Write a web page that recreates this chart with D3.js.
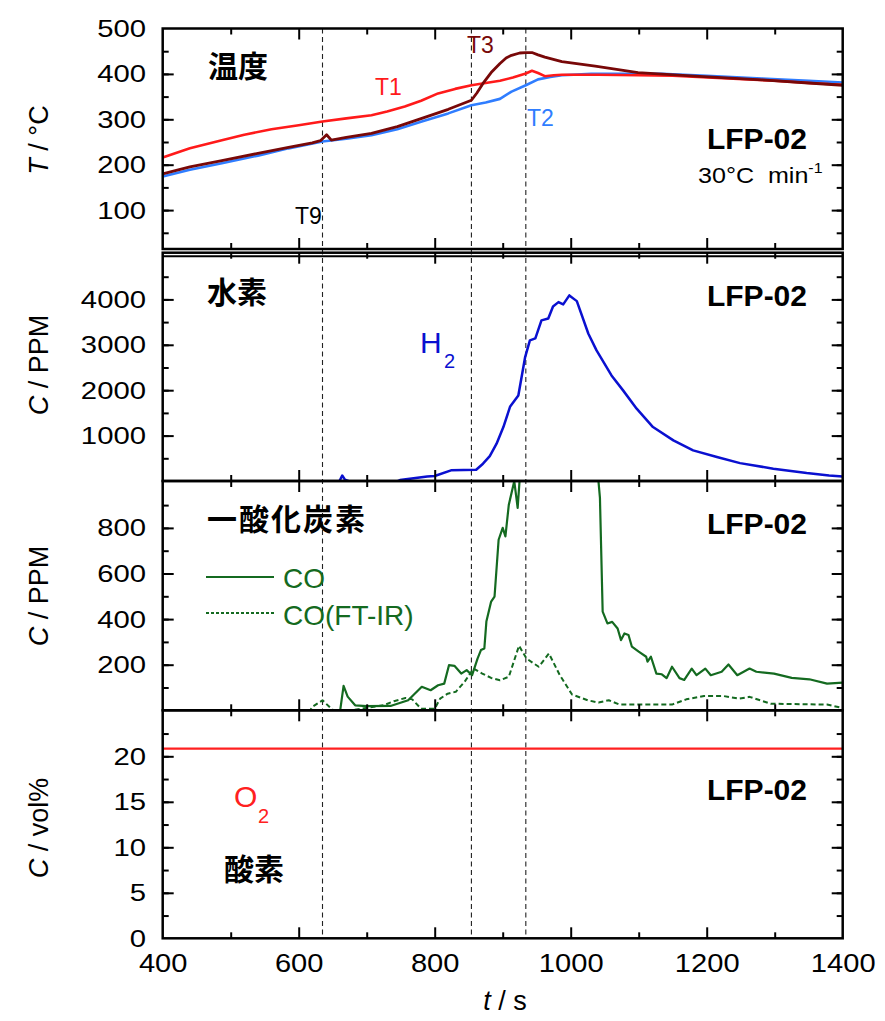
<!DOCTYPE html>
<html>
<head>
<meta charset="utf-8">
<script src="https://cdn.jsdelivr.net/npm/d3@7"></script>
<style>
  body { margin: 0; background: #fff; }
  text { font-family: "Liberation Sans", Arial, sans-serif; }
  .jp { font-family: "Noto Sans CJK JP", sans-serif; font-weight: 700; }
</style>
</head>
<body>
<svg id="chart" width="885" height="1021"></svg>
<script>
// ---- data ----
const markerTimes = [635, 854, 934];

const t1Time = [400, 440, 487, 520, 560, 600, 635, 670, 707, 730, 756, 780, 805, 830, 854, 875, 896, 915, 934, 943, 952, 962, 975, 987, 1040, 1099, 1150, 1231, 1300, 1350, 1400];
const t1Temp = [216, 236, 254, 266, 278, 287, 295, 302, 309, 317, 328, 341, 357, 367, 375, 380, 385, 392, 401, 407, 402, 395, 397, 398, 398, 397, 396, 390, 385, 380, 376];

const t2Time = [400, 440, 487, 540, 585, 635, 670, 707, 745, 781, 820, 854, 875, 896, 913, 934, 952, 970, 987, 1030, 1134, 1200, 1281, 1350, 1400];
const t2Temp = [174, 189, 203, 220, 236, 251, 257, 265, 278, 295, 313, 331, 337, 345, 361, 375, 388, 393, 397, 400, 400, 396, 390, 385, 381];

const t3Time = [400, 440, 487, 540, 585, 620, 632, 641, 648, 670, 707, 745, 781, 820, 854, 862, 871, 883, 896, 905, 913, 925, 934, 943, 952, 962, 987, 1036, 1099, 1183, 1281, 1350, 1400];
const t3Temp = [180, 195, 209, 225, 238, 248, 253, 266, 254, 260, 269, 284, 302, 322, 342, 358, 379, 403, 423, 435, 441, 446, 447, 447, 442, 437, 427, 417, 403, 395, 387, 380, 375];

const h2Time = [655, 660, 664, 668, 680, 740, 749, 789, 800, 824, 861, 871, 881, 891, 901, 911, 923, 933, 940, 948, 957, 967, 974, 982, 989, 998, 1009, 1026, 1038, 1060, 1077, 1097, 1121, 1151, 1180, 1215, 1249, 1298, 1347, 1380, 1400];
const h2Ppm  = [-40, 0, 120, 30, -40, -40, 20, 100, 110, 235, 248, 381, 549, 821, 1188, 1643, 1885, 2730, 3097, 3140, 3537, 3580, 3845, 3940, 3890, 4088, 3962, 3244, 2877, 2326, 1996, 1593, 1188, 894, 674, 527, 394, 271, 174, 120, 101];

const coTime = [661, 666, 672, 683, 700, 735, 761, 781, 794, 805, 814, 821, 829, 839, 847, 855, 863, 868, 873, 876, 883, 888, 894, 900, 904, 909, 917, 922, 927, 1038, 1043, 1047, 1054, 1061, 1069, 1074, 1079, 1085, 1090, 1100, 1111, 1113, 1118, 1126, 1134, 1141, 1149, 1160, 1167, 1178, 1185, 1198, 1206, 1222, 1232, 1245, 1263, 1273, 1299, 1325, 1351, 1377, 1400];
const coPpm  = [0, 107, 60, 22, 18, 19, 44, 103, 88, 110, 117, 198, 195, 161, 176, 154, 227, 264, 271, 389, 477, 499, 748, 800, 763, 902, 1005, 888, 1100, 1100, 932, 433, 381, 388, 359, 308, 337, 330, 279, 257, 235, 213, 235, 161, 158, 141, 191, 141, 133, 183, 154, 183, 154, 169, 201, 154, 183, 169, 161, 142, 136, 117, 121];

const coIrTime = [615, 620, 635, 648, 655, 725, 740, 757, 767, 780, 800, 808, 819, 831, 844, 857, 870, 883, 896, 909, 924, 935, 953, 968, 984, 1002, 1025, 1041, 1056, 1072, 1149, 1170, 1196, 1224, 1247, 1263, 1294, 1377, 1400];
const coIrPpm  = [-10, 15, 44, 7, -10, 22, 40, 54, 48, 7, 7, 51, 73, 81, 125, 183, 161, 142, 132, 147, 283, 227, 191, 249, 154, 69, 44, 34, 44, 25, 25, 48, 63, 63, 51, 59, 29, 25, 10];

const o2Time = [400, 1400];
const o2Vol  = [20.85, 20.85];

const xTicks = [400, 600, 800, 1000, 1200, 1400];
const xMinor = [500, 700, 900, 1100, 1300];
const tLabels = [100, 200, 300, 400, 500];
const h2Labels = [1000, 2000, 3000, 4000];
const coLabels = [200, 400, 600, 800];
const o2Labels = [0, 5, 10, 15, 20];

// ---- layout ----
const svg = d3.select('#chart');
const X0 = 162.7, X1 = 842.7;
const x = d3.scaleLinear().domain([400, 1400]).range([X0, X1]);

const panels = [
  { id: 'temp', top: 28.5, bottom: 249, y: d3.scaleLinear().domain([0, 500]).range([255.5, 28.5]),
    labels: tLabels, minor: d3.range(50, 500, 50) },
  { id: 'h2', top: 252.7, bottom: 481, y: d3.scaleLinear().domain([0, 5000]).range([481, 254]),
    labels: h2Labels, minor: d3.range(500, 5000, 500) },
  { id: 'co', top: 481, bottom: 710.3, y: d3.scaleLinear().domain([0, 1000]).range([710.3, 482.3]),
    labels: coLabels, minor: d3.range(100, 1000, 100) },
  { id: 'o2', top: 710.3, bottom: 938.3, y: d3.scaleLinear().domain([0, 25]).range([938.3, 710.8]),
    labels: o2Labels, minor: d3.range(2.5, 25, 2.5) }
];
const P = Object.fromEntries(panels.map(p => [p.id, p]));

const defs = svg.append('defs');
panels.forEach(p => {
  defs.append('clipPath').attr('id', 'clip-' + p.id)
    .append('rect').attr('x', X0).attr('y', p.top).attr('width', X1 - X0).attr('height', p.bottom - p.top);
});

const clean = g => { g.select('.domain').remove(); g.attr('font-family', null).attr('font-size', null); };
const MAJ = 11, MIN = 6;

// marker lines
svg.append('g').selectAll('line').data(markerTimes).join('line')
  .attr('x1', d => x(d)).attr('x2', d => x(d))
  .attr('y1', P.temp.top).attr('y2', P.o2.bottom)
  .attr('stroke', '#222').attr('stroke-width', 1.1).attr('stroke-dasharray', '5,3.5');

// series
function drawLine(panel, times, vals, color, width, dash) {
  const y = P[panel].y;
  const line = d3.line().x(d => x(d[0])).y(d => y(d[1]));
  svg.append('path')
    .datum(d3.zip(times, vals))
    .attr('clip-path', `url(#clip-${panel})`)
    .attr('fill', 'none').attr('stroke', color).attr('stroke-width', width)
    .attr('stroke-linejoin', 'round')
    .attr('stroke-dasharray', dash || null)
    .attr('d', line);
}
const C_T1 = '#ff1a1a', C_T2 = '#2f7dff', C_T3 = '#780808', C_H2 = '#0a10d0', C_CO = '#146a20', C_O2 = '#ff2020';

drawLine('temp', t2Time, t2Temp, C_T2, 2.6);
drawLine('temp', t1Time, t1Temp, C_T1, 2.6);
drawLine('temp', t3Time, t3Temp, C_T3, 2.8);
drawLine('h2', h2Time, h2Ppm, C_H2, 2.5);
drawLine('co', coIrTime, coIrPpm, C_CO, 2, '5,3');
drawLine('co', coTime, coPpm, C_CO, 2.2);
drawLine('o2', o2Time, o2Vol, C_O2, 2.2);

// axes: inward ticks on all four sides of every panel
panels.forEach(p => {
  const inRange = v => { const py = p.y(v); return py > p.top + 1 && py < p.bottom - 1; };
  const minor = p.minor.filter(inRange);
  const major = minor.filter(v => p.labels.includes(v) || (p.id === 'o2' && v % 5 === 0));
  const xMaj = xTicks.filter(v => v > 400 && v < 1400);

  [[d3.axisLeft, X0], [d3.axisRight, X1]].forEach(([ax, px]) => {
    svg.append('g').attr('transform', `translate(${px},0)`)
      .call(ax(p.y).tickValues(minor).tickSize(-MIN).tickFormat('')).call(clean);
    svg.append('g').attr('transform', `translate(${px},0)`)
      .call(ax(p.y).tickValues(major).tickSize(-MAJ).tickFormat('')).call(clean);
  });
  [[d3.axisTop, p.top], [d3.axisBottom, p.bottom]].forEach(([ax, py]) => {
    svg.append('g').attr('transform', `translate(0,${py})`)
      .call(ax(x).tickValues(xMinor).tickSize(-MIN).tickFormat('')).call(clean);
    svg.append('g').attr('transform', `translate(0,${py})`)
      .call(ax(x).tickValues(xMaj).tickSize(-MAJ).tickFormat('')).call(clean);
  });

  // left tick labels
  const lab = svg.append('g');
  p.labels.forEach(v => {
    lab.append('text')
      .attr('transform', `translate(146,${p.y(v) + 8.5}) scale(1.22,1)`)
      .attr('text-anchor', 'end').attr('font-size', 24).attr('fill', '#000')
      .text(v);
  });
});

svg.selectAll('.tick line').attr('stroke', '#000').attr('stroke-width', 2);

// bottom labels
svg.append('g').attr('transform', `translate(0,${P.o2.bottom})`)
  .call(d3.axisBottom(x).tickValues(xTicks).tickSize(0).tickPadding(15).tickFormat(d3.format('d')))
  .call(clean)
  .selectAll('text').attr('font-size', 26).attr('fill', '#000')
  .attr('transform', 'scale(1.12,1)');

// panel frames
const frame = svg.append('g').attr('fill', 'none').attr('stroke', '#000').attr('stroke-width', 2.5);
panels.forEach(p => {
  frame.append('rect').attr('x', X0).attr('y', p.top).attr('width', X1 - X0).attr('height', p.bottom - p.top);
});
frame.append('line').attr('x1', X0).attr('x2', X1).attr('y1', 256.3).attr('y2', 256.3).attr('stroke-width', 2);

// axis titles
function yTitle(cy, italic, rest) {
  const t = svg.append('text')
    .attr('transform', `translate(48,${cy}) rotate(-90)`)
    .attr('text-anchor', 'middle').attr('font-size', 27).attr('fill', '#000');
  t.append('tspan').attr('font-style', 'italic').text(italic);
  t.append('tspan').text(rest);
}
yTitle(140, 'T', ' / °C');
yTitle(365, 'C', ' / PPM');
yTitle(596, 'C', ' / PPM');
yTitle(828, 'C', ' / vol%');

const xt = svg.append('text').attr('x', 505).attr('y', 1010).attr('text-anchor', 'middle')
  .attr('font-size', 27).attr('fill', '#000');
xt.append('tspan').attr('font-style', 'italic').text('t');
xt.append('tspan').text(' / s');

// panel annotations
function label(x0, y0, txt, size, color, cls, extra) {
  const t = svg.append('text').attr('x', x0).attr('y', y0).attr('font-size', size).attr('fill', color || '#000');
  if (cls) t.attr('class', cls);
  if (extra) extra(t);
  t.text(txt);
  return t;
}
label(208, 77, '温度', 30, '#000', 'jp');
label(207, 303, '水素', 30, '#000', 'jp');
label(207, 530, '一酸化炭素', 30, '#000', 'jp', t => t.attr('letter-spacing', 2));
label(224, 880, '酸素', 30, '#000', 'jp');

[149, 306, 534, 800].forEach(by => {
  label(807, by, 'LFP-02', 30, '#000', null, t => t.attr('text-anchor', 'end').attr('font-weight', 700));
});

const rate = svg.append('text').attr('transform', 'translate(698,183) scale(1.14,1)')
  .attr('font-size', 22).attr('fill', '#000').attr('xml:space', 'preserve');
rate.append('tspan').text('30°C  min');
rate.append('tspan').attr('font-size', 14).attr('dy', -10).text('-1');

label(375, 95, 'T1', 23, C_T1);
label(467, 53, 'T3', 23, C_T3);
label(527, 126, 'T2', 23, C_T2);
label(295, 224, 'T9', 23, '#000');

label(420, 353, 'H', 30, C_H2);
label(444, 368, '2', 20, C_H2);
label(234, 807, 'O', 30, C_O2);
label(258, 823, '2', 20, C_O2);

// legend for the CO panel
const lg = svg.append('g');
lg.append('line').attr('x1', 206).attr('x2', 274).attr('y1', 577).attr('y2', 577)
  .attr('stroke', C_CO).attr('stroke-width', 2.2);
lg.append('line').attr('x1', 206).attr('x2', 274).attr('y1', 613).attr('y2', 613)
  .attr('stroke', C_CO).attr('stroke-width', 2).attr('stroke-dasharray', '3,2');
label(283, 588, 'CO', 28, C_CO);
label(283, 625, 'CO(FT-IR)', 28, C_CO);
</script>
</body>
</html>
